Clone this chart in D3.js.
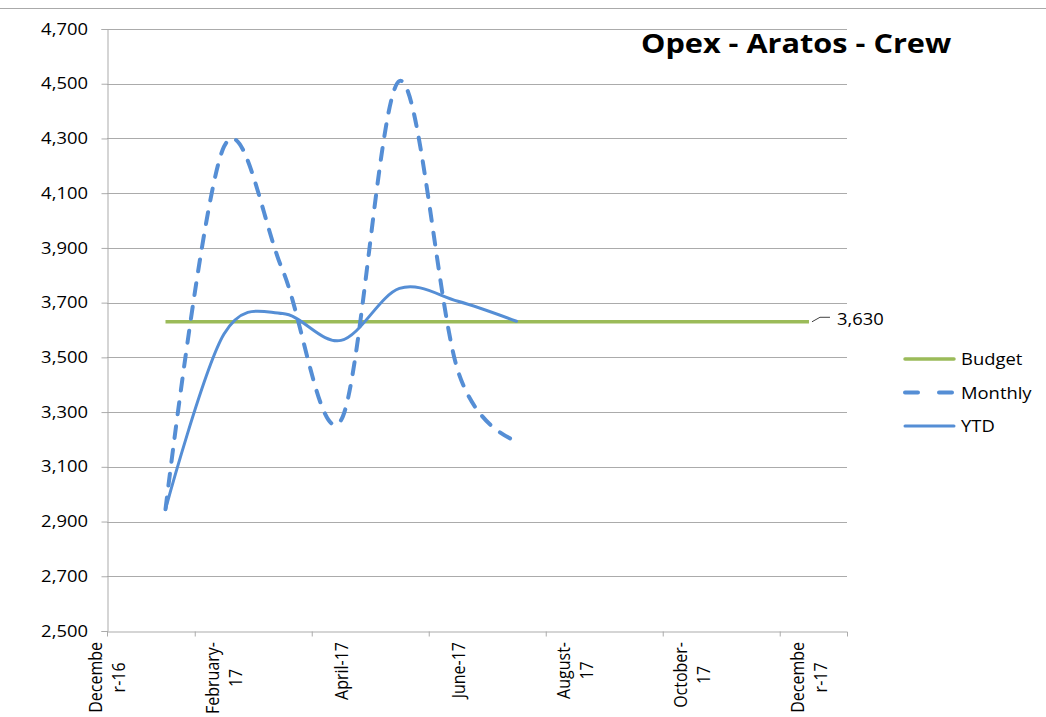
<!DOCTYPE html>
<html>
<head>
<meta charset="utf-8">
<script src="https://cdn.jsdelivr.net/npm/d3@7"></script>
<style>
  body { margin: 0; background: #fff; }
  text { font-family: "Open Sans", sans-serif; fill: #000; }
</style>
</head>
<body>
<svg id="chart" width="1046" height="717"></svg>
<script>
// month index: December 2016 = 0
const labelMonths = [0, 2, 4, 6, 8, 10, 12];
const monthLabels = [["Decembe", "r-16"], ["February-", "17"], ["April-17"], ["June-17"],
                     ["August-", "17"], ["October-", "17"], ["Decembe", "r-17"]];
const tickMonths = [1.5, 3.5, 5.5, 7.5, 9.5, 11.5];

const actualMonths = [1, 2, 3, 4, 5, 6, 7];
const monthly = [2945, 4270, 3820, 3270, 4510, 3450, 3195];
const ytd = [2945, 3585, 3660, 3562, 3752, 3705, 3632];

const budgetMonths = [1, 2, 3, 4, 5, 6, 7, 8, 9, 10, 11, 12];
const budget = [3630, 3630, 3630, 3630, 3630, 3630, 3630, 3630, 3630, 3630, 3630, 3630];

const yTicks = [2500, 2700, 2900, 3100, 3300, 3500, 3700, 3900, 4100, 4300, 4500, 4700];

const svg = d3.select("#chart");
const stretch = 1.15; // reference text is a bit wider than the font

const x = d3.scaleLinear().domain([0, 12.65]).range([107, 847]);
const y = d3.scaleLinear().domain([2500, 4700]).range([631, 29]);

const blue = "#558ED5", green = "#9BBB59", grid = "#ABABAB";

// top border of chart area
svg.append("line")
    .attr("x1", 0).attr("x2", 1046).attr("y1", 8.5).attr("y2", 8.5)
    .attr("stroke", "#AAAAAA");

// gridlines
svg.append("g")
    .selectAll("line")
    .data(yTicks.slice(1))
    .join("line")
    .attr("x1", x.range()[0]).attr("x2", x.range()[1])
    .attr("y1", d => Math.round(y(d)) + 0.5)
    .attr("y2", d => Math.round(y(d)) + 0.5)
    .attr("stroke", grid);

// y axis
const yAxis = svg.append("g")
    .attr("transform", `translate(${x.range()[0] + 0.5},0)`)
    .call(d3.axisLeft(y).tickValues(yTicks).tickSize(6).tickPadding(11).tickFormat(d3.format(",")))
    .attr("font-family", null).attr("font-size", null);
yAxis.select(".domain").attr("stroke", grid);
yAxis.selectAll(".tick line").attr("stroke", grid);
yAxis.selectAll(".tick text")
    .attr("fill", "#000")
    .style("font-size", "16px")
    .attr("transform", `scale(${stretch},1)`);

// x axis
const xAxis = svg.append("g")
    .attr("transform", `translate(0,${Math.round(y(2500)) + 0.5})`)
    .call(d3.axisBottom(x).tickValues(tickMonths).tickSize(5).tickFormat(""));
xAxis.select(".domain").attr("stroke", grid);
xAxis.selectAll(".tick line").attr("stroke", grid);

// x labels, rotated, longest line ends at the top
const labelTop = 642;
labelMonths.forEach((m, i) => {
    const lines = monthLabels[i];
    const g = svg.append("g")
        .attr("transform", `translate(${x(m)},${labelTop}) scale(${stretch},1) rotate(-90)`);
    const texts = g.selectAll("text")
        .data(lines)
        .join("text")
        .style("font-size", "16px")
        .attr("text-anchor", "middle")
        .attr("dominant-baseline", "central")
        .attr("y", (d, j) => (j - (lines.length - 1) / 2) * 20)
        .text(d => d);
    let maxLen = 0;
    texts.each(function () { maxLen = Math.max(maxLen, this.getComputedTextLength()); });
    texts.attr("x", -maxLen / 2);
});

// series
const line = d3.line()
    .x((d, i) => x(d[0]))
    .y(d => y(d[1]))
    .curve(d3.curveCardinal.tension(0));

svg.append("path")
    .datum(budgetMonths.map((m, i) => [m, budget[i]]))
    .attr("d", d3.line().x(d => x(d[0])).y(d => y(d[1])))
    .attr("fill", "none").attr("stroke", green).attr("stroke-width", 3.5);

svg.append("path")
    .datum(actualMonths.map((m, i) => [m, monthly[i]]))
    .attr("d", line)
    .attr("fill", "none").attr("stroke", blue).attr("stroke-width", 4)
    .attr("stroke-dasharray", "12,12").attr("stroke-linecap", "round");

svg.append("path")
    .datum(actualMonths.map((m, i) => [m, ytd[i]]))
    .attr("d", line)
    .attr("fill", "none").attr("stroke", blue).attr("stroke-width", 3)
    .attr("stroke-linecap", "round");

// data label on last budget point
const lastX = x(budgetMonths[budgetMonths.length - 1]);
const lastY = y(budget[budget.length - 1]);
svg.append("path")
    .attr("d", `M${lastX + 3},${lastY} L${lastX + 11},${lastY - 4.5} L${lastX + 21},${lastY - 4.5}`)
    .attr("fill", "none").attr("stroke", "#404040").attr("stroke-width", 1);
svg.append("text")
    .attr("transform", `translate(${lastX + 28},${lastY - 3}) scale(${stretch},1)`)
    .attr("dominant-baseline", "central")
    .style("font-size", "16px")
    .text(d3.format(",")(budget[budget.length - 1]));

// title
svg.append("text")
    .attr("transform", `translate(641,53) scale(1.18,1)`)
    .style("font-size", "26px").style("font-weight", "bold")
    .text("Opex - Aratos - Crew");

// legend
const legendItems = [
    { name: "Budget", color: green, dash: null, width: 3.5 },
    { name: "Monthly", color: blue, dash: "13,21", width: 4 },
    { name: "YTD", color: blue, dash: null, width: 3 }
];
const legend = svg.append("g")
    .selectAll("g")
    .data(legendItems)
    .join("g")
    .attr("transform", (d, i) => `translate(0,${359 + i * 33.5})`);
legend.append("line")
    .attr("x1", 905).attr("x2", 954)
    .attr("stroke", d => d.color).attr("stroke-width", d => d.width)
    .attr("stroke-linecap", "round")
    .attr("stroke-dasharray", d => d.dash);
legend.append("text")
    .attr("transform", `translate(961,0) scale(${stretch},1)`)
    .attr("dominant-baseline", "central")
    .style("font-size", "16px")
    .text(d => d.name);
</script>
</body>
</html>
